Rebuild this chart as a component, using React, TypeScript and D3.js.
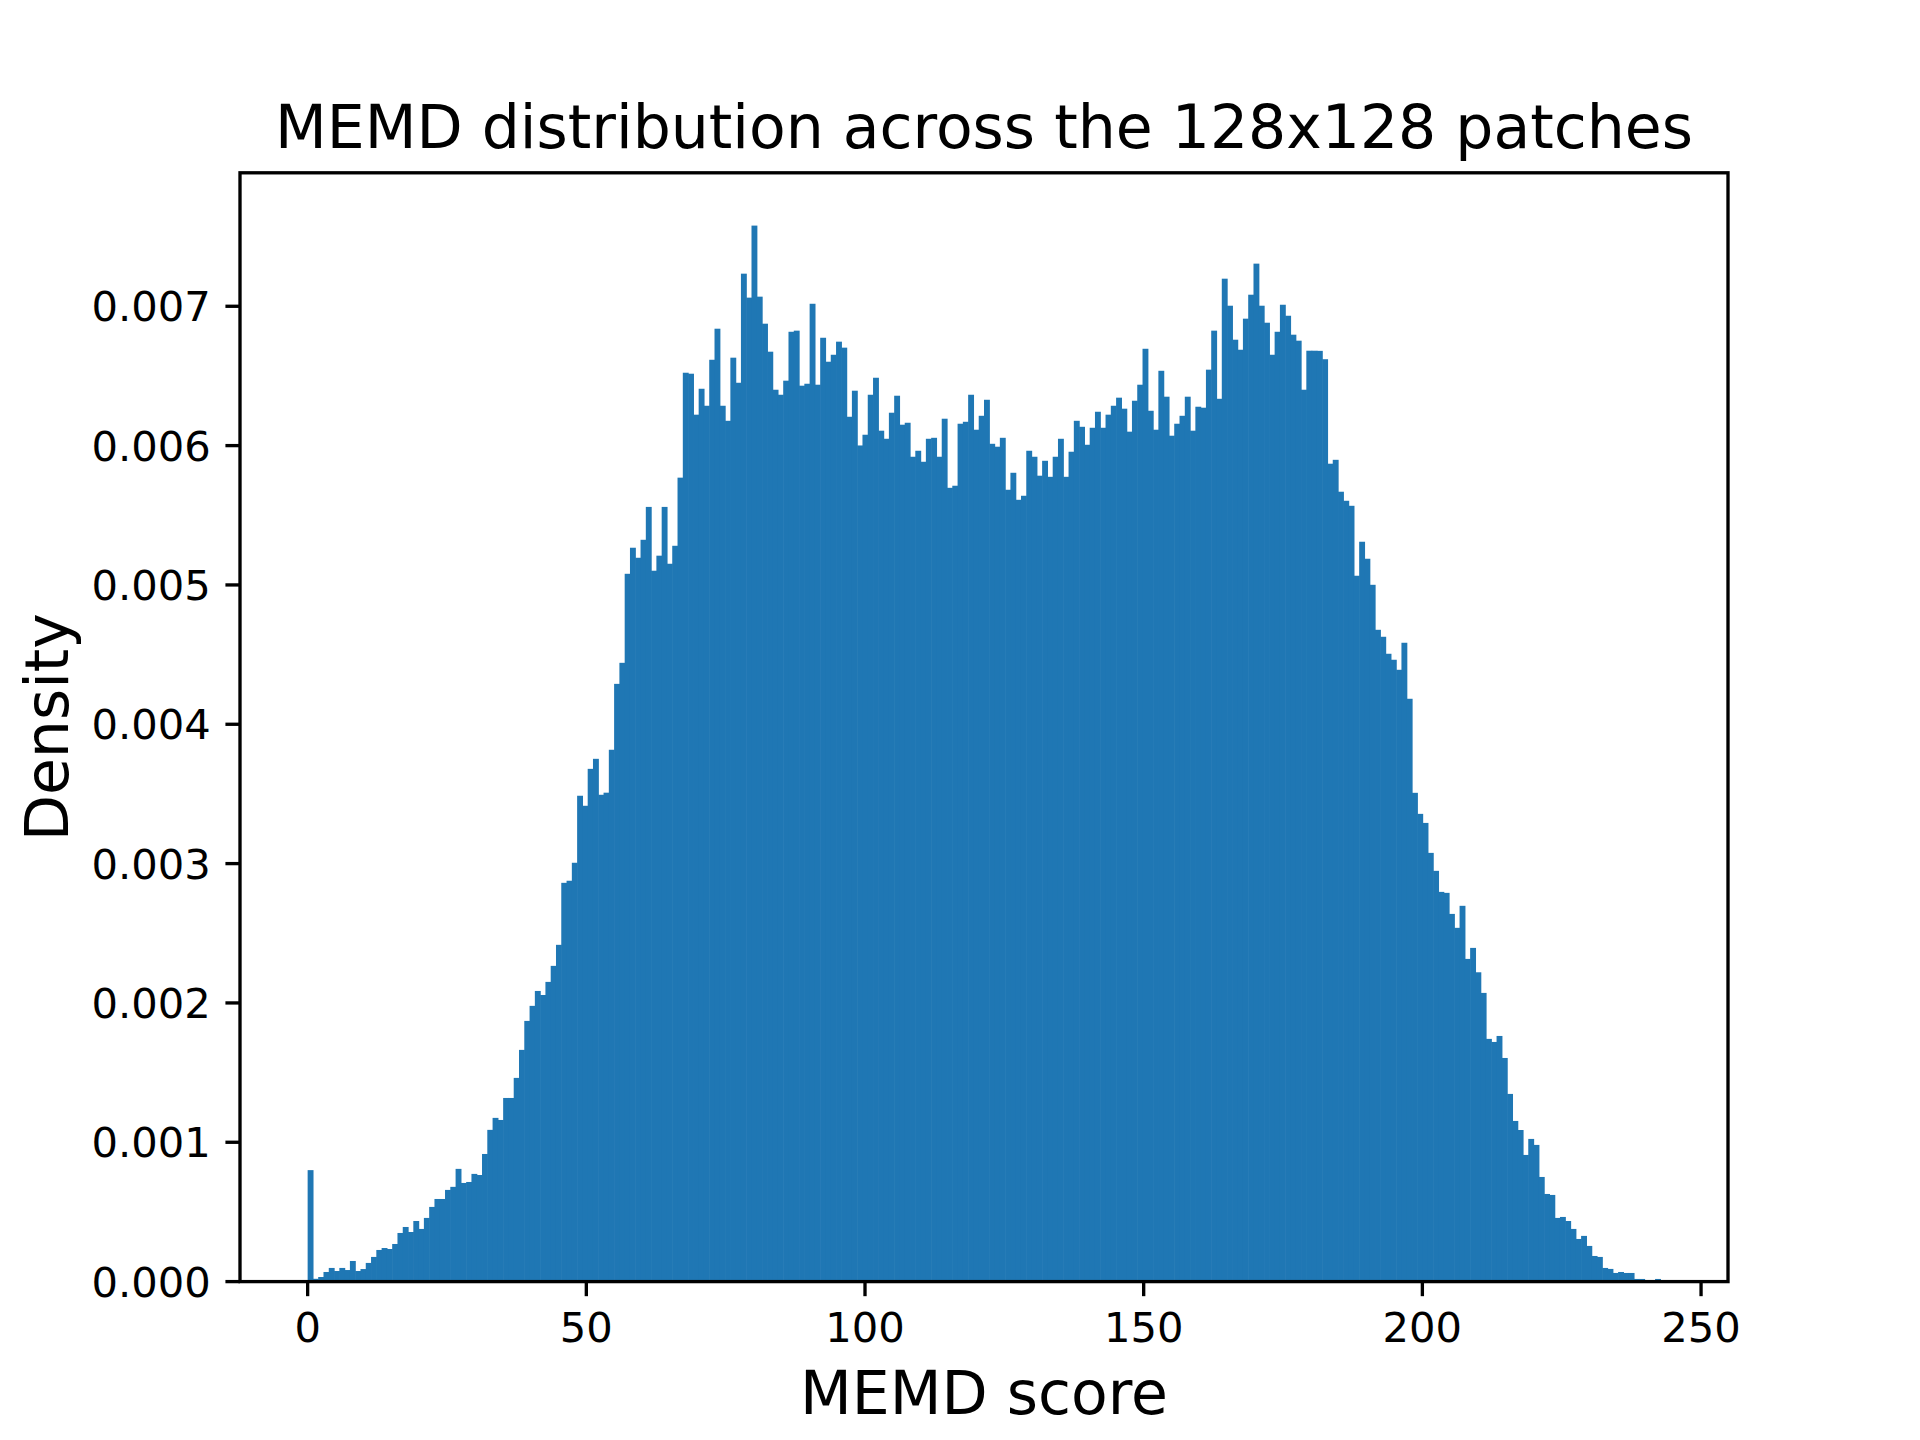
import React, { useEffect } from "react";
import * as d3 from "d3";

const BAR_COLOR = "#1f77b4";

// 256 histogram bins between the smallest and largest MEMD score
const dataMin = 0;
const dataMax = 242.7;
const binCount = 256;

// density per bin
const densities = [
  0.0008, 0.00002, 0.000033, 0.000069, 0.000098, 0.000076, 0.000098, 0.000083, 0.000148, 0.000076,
  0.00009, 0.000134, 0.000177, 0.000227, 0.000241, 0.000234, 0.00027, 0.000349, 0.000392, 0.000356,
  0.000435, 0.000378, 0.000457, 0.000536, 0.000593, 0.000593, 0.000658, 0.00068, 0.000809, 0.000708,
  0.000715, 0.000773, 0.000765, 0.000916, 0.001089, 0.001175, 0.00116, 0.001318, 0.001318, 0.001462,
  0.001663, 0.001871, 0.001979, 0.002086, 0.002057, 0.002151, 0.002266, 0.002417, 0.002862, 0.002877,
  0.003006, 0.003487, 0.003415, 0.00368, 0.003752, 0.003494, 0.003509, 0.003817, 0.00429, 0.004441,
  0.00508, 0.005267, 0.005195, 0.005324, 0.00556, 0.005102, 0.00521, 0.00556, 0.005152, 0.005281,
  0.00577, 0.006523, 0.006516, 0.006222, 0.006408, 0.006286, 0.006616, 0.006839, 0.006286, 0.006178,
  0.006631, 0.006451, 0.007234, 0.007062, 0.007579, 0.007069, 0.006875, 0.006674, 0.006401, 0.006365,
  0.006466, 0.006817, 0.006825, 0.00643, 0.006444, 0.007018, 0.006437, 0.006774, 0.006602, 0.006652,
  0.006746, 0.006703, 0.006207, 0.006394, 0.006001, 0.006078, 0.006365, 0.006487, 0.006107, 0.006049,
  0.006236, 0.006358, 0.00615, 0.006164, 0.00592, 0.005963, 0.005884, 0.006049, 0.006056, 0.00592,
  0.006193, 0.005697, 0.005712, 0.006157, 0.006171, 0.006365, 0.006114, 0.006214, 0.006329, 0.006013,
  0.005992, 0.006056, 0.005683, 0.005805, 0.005611, 0.00564, 0.005963, 0.00592, 0.005784, 0.005891,
  0.005776, 0.00592, 0.006049, 0.005776, 0.005956, 0.006178, 0.006135, 0.006006, 0.006128, 0.006243,
  0.006128, 0.006222, 0.006286, 0.006344, 0.006265, 0.0061, 0.006322, 0.006437, 0.006695, 0.00625,
  0.006114, 0.006537, 0.006351, 0.006071, 0.006157, 0.006214, 0.006351, 0.006107, 0.006279, 0.006272,
  0.006545, 0.006825, 0.006336, 0.007198, 0.007004, 0.00676, 0.006688, 0.006911, 0.007083, 0.007306,
  0.007004, 0.006882, 0.006652, 0.006817, 0.007011, 0.006932, 0.006796, 0.006753, 0.006401, 0.006681,
  0.006681, 0.00668, 0.00662, 0.00587, 0.005898, 0.005669, 0.005604, 0.005568, 0.005066, 0.00531,
  0.005188, 0.005001, 0.004678, 0.004628, 0.004506, 0.004463, 0.004391, 0.004585, 0.004183, 0.003508,
  0.003357, 0.003292, 0.003077, 0.002948, 0.002797, 0.00279, 0.002639, 0.002539, 0.002697, 0.002316,
  0.002395, 0.00222, 0.002072, 0.001742, 0.00172, 0.001763, 0.001605, 0.001347, 0.001153, 0.001088,
  0.000909, 0.001024, 0.000981, 0.000751, 0.000629, 0.000622, 0.000457, 0.000464, 0.000435, 0.000378,
  0.000306, 0.000328, 0.000256, 0.000184, 0.000177, 0.000098, 0.000091, 0.000062, 0.000069, 0.000062,
  0.000062, 0.000019, 0.000019, 0.00001, 0, 0.000019,
];

const xTicks = [0, 50, 100, 150, 200, 250];
const yTicks = [0, 0.001, 0.002, 0.003, 0.004, 0.005, 0.006, 0.007];

const title = "MEMD distribution across the 128x128 patches";
const xLabel = "MEMD score";
const yLabel = "Density";

// figure geometry (6.4 x 4.8 in at 300 dpi)
const W = 1920;
const H = 1440;
const left = 240;
const right = 1728;
const top = 172.8;
const bottom = 1281.6;
const pt = 300 / 72;

export default function App() {
  useEffect(() => {
    document.body.style.margin = "0";
  }, []);

  const binW = (dataMax - dataMin) / binCount;
  const span = dataMax - dataMin;
  const x = d3.scaleLinear()
    .domain([dataMin - 0.05 * span, dataMax + 0.05 * span])
    .range([left, right]);
  const yMax = d3.max(densities) as number;
  const y = d3.scaleLinear().domain([0, yMax * 1.05]).range([bottom, top]);
  const fmt = d3.format(".3f");

  const tickFont = 10 * pt;
  const labelFont = 14.4 * pt;
  const tickLen = 3.5 * pt;
  const tickPad = 3.5 * pt;
  const lw = 0.8 * pt;

  return (
    <svg width={W} height={H} style={{ display: "block", background: "#fff" }} fontFamily="DejaVu Sans">
      <g>
        {densities.map((d, i) => {
          const x0 = x(dataMin + i * binW);
          const x1 = x(dataMin + (i + 1) * binW);
          return (
            <rect key={i} x={x0} y={y(d)} width={x1 - x0 + 0.6} height={y(0) - y(d)} fill={BAR_COLOR} />
          );
        })}
      </g>

      <rect x={left} y={top} width={right - left} height={bottom - top} fill="none" stroke="#000" strokeWidth={lw} />

      <g>
        {xTicks.map((t) => (
          <g key={t} transform={`translate(${x(t)},${bottom})`}>
            <line y1={0} y2={tickLen} stroke="#000" strokeWidth={lw} />
            <text y={tickLen + tickPad + 0.76 * tickFont} textAnchor="middle" fontSize={tickFont}>{t}</text>
          </g>
        ))}
      </g>

      <g>
        {yTicks.map((t) => (
          <g key={t} transform={`translate(${left},${y(t)})`}>
            <line x1={0} x2={-tickLen} stroke="#000" strokeWidth={lw} />
            <text x={-tickLen - tickPad} y={0.365 * tickFont} textAnchor="end" fontSize={tickFont}>{fmt(t)}</text>
          </g>
        ))}
      </g>

      <text x={(left + right) / 2} y={top - 6 * pt} textAnchor="middle" fontSize={labelFont}>{title}</text>
      <text x={(left + right) / 2} y={1414} textAnchor="middle" fontSize={labelFont}>{xLabel}</text>
      <text transform={`translate(68,${(top + bottom) / 2}) rotate(-90)`} textAnchor="middle" fontSize={labelFont}>{yLabel}</text>
    </svg>
  );
}
